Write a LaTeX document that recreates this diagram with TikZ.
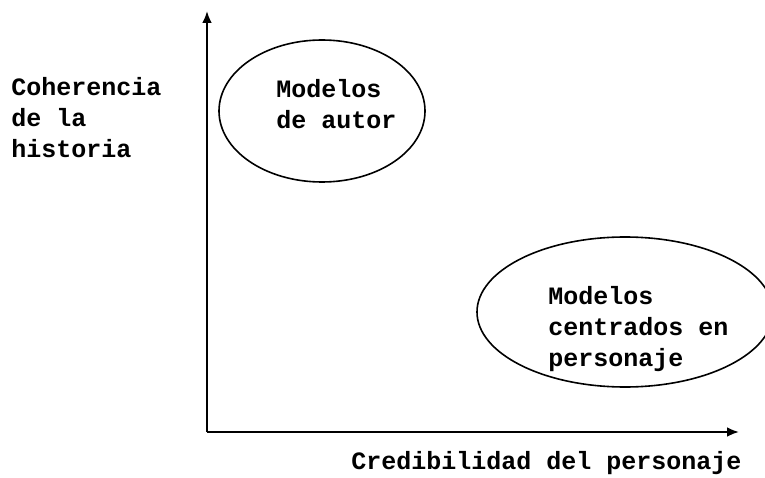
\documentclass[tikz,border=0pt]{standalone}
\usepackage{fontspec}
\setmonofont{Liberation Mono}
\usetikzlibrary{arrows.meta,shapes.geometric}

\begin{document}
\begin{tikzpicture}[x=1pt, y=-1pt, line width = 2.5pt,
				axis/.style = {-{Latex[length=12pt,width=10pt]}},
				model/.style = {ellipse, draw, line width = 1.6pt, inner sep = 0pt},
				label/.style = {anchor = north west, inner sep = 0pt, align = left,
				font = \ttfamily\bfseries\fontsize{25}{31}\selectfont}]

				\useasboundingbox (0,0) rectangle (765,478);

				\coordinate (o) at (207,432);
				\coordinate (y_top) at (207,11);
				\coordinate (x_end) at (739,432);
				\draw [axis] (o) -- (y_top);
				\draw [axis] (o) -- (x_end);

				\node [model, minimum width = 206pt, minimum height = 142pt] (m_1) at (322,111) {};
				\node [model, minimum width = 296pt, minimum height = 150pt] (m_2) at (625,312) {};

				\node [label] (t_1) at (275,78) {Modelos\\de autor};
				\node [label] (t_2) at (547,285) {Modelos\\centrados en\\personaje};
				\node [label] (y_lab) at (10,76) {Coherencia\\de la\\historia};
				\node [label] (x_lab) at (350,450) {Credibilidad del personaje};
			\end{tikzpicture}
\end{document}
